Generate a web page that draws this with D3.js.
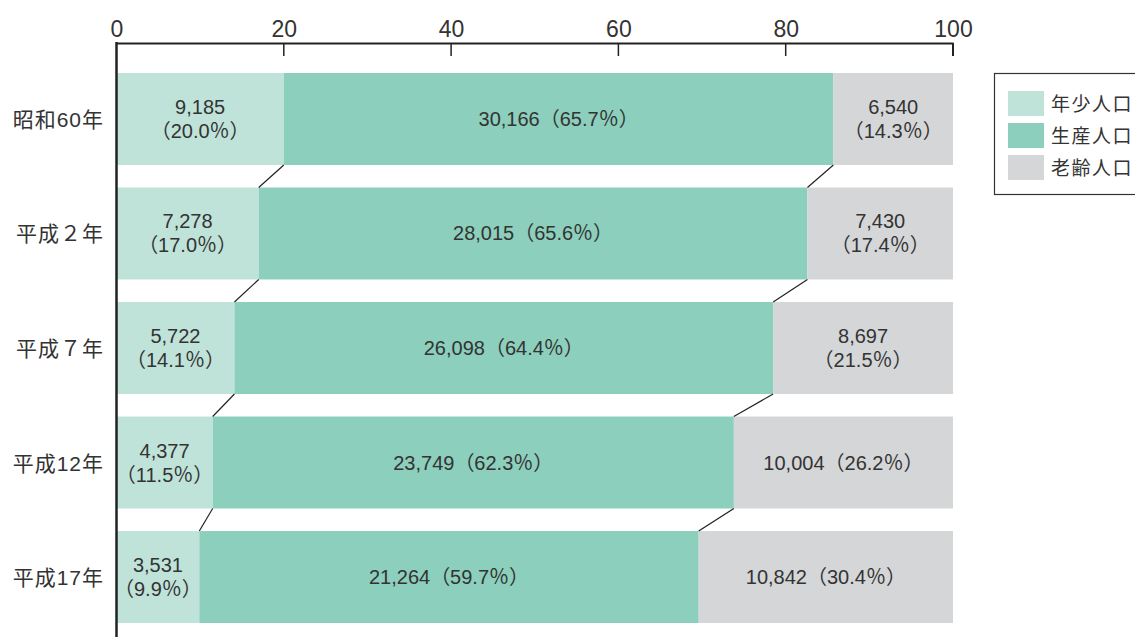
<!DOCTYPE html>
<html><head><meta charset="utf-8">
<script src="https://cdn.jsdelivr.net/npm/d3@7"></script>
<style>body{margin:0;background:#fff}svg{display:block}text{font-family:"Liberation Sans","Noto Sans CJK JP",sans-serif;fill:#333}</style>
</head><body>
<svg id="c" width="1135" height="637"></svg>
<script>
const categories = ["昭和60年","平成２年","平成７年","平成12年","平成17年"];
const seriesNames = ["年少人口","生産人口","老齢人口"];
const youngCount = ["9,185","7,278","5,722","4,377","3,531"];
const workCount = ["30,166","28,015","26,098","23,749","21,264"];
const oldCount = ["6,540","7,430","8,697","10,004","10,842"];
const youngPct = [20.0,17.0,14.1,11.5,9.9];
const workPct = [65.7,65.6,64.4,62.3,59.7];
const oldPct = [14.3,17.4,21.5,26.2,30.4];
const tickValues = [0,20,40,60,80,100];
const colors = ["#bfe3d9","#8bcfbc","#d5d6d8"];

const svg = d3.select("#c");
const x = d3.scaleLinear().domain([0,100]).range([116.5,953]);
const y = d3.scaleBand().domain(categories).range([73,623]).paddingInner(0.197).paddingOuter(0);

const fmt = v => v.toFixed(1);
const rows = categories.map((c,i)=>({
  cat:c,
  segs:[
    {k:0,start:0,end:youngPct[i],count:youngCount[i],pct:youngPct[i]},
    {k:1,start:youngPct[i],end:youngPct[i]+workPct[i],count:workCount[i],pct:workPct[i]},
    {k:2,start:youngPct[i]+workPct[i],end:100,count:oldCount[i],pct:oldPct[i]}
  ]
}));

rows.forEach(r=>{
  r.segs.forEach(s=>{
    svg.append("rect").attr("x",x(s.start)).attr("y",y(r.cat))
      .attr("width",x(s.end)-x(s.start)).attr("height",y.bandwidth())
      .attr("fill",colors[s.k]);
  });
});

for(let i=1;i<rows.length;i++){
  const p = rows[i-1], n = rows[i];
  [0,1].forEach(k=>{
    svg.append("line")
      .attr("x1",x(p.segs[k].end)).attr("y1",y(p.cat)+y.bandwidth())
      .attr("x2",x(n.segs[k].end)).attr("y2",y(n.cat))
      .attr("stroke","#222").attr("stroke-width",1.2);
  });
}

rows.forEach((r,i)=>{
  const cy = y(r.cat)+y.bandwidth()/2;
  r.segs.forEach(s=>{
    const cx = (x(s.start)+x(s.end))/2;
    const pctTxt = "（"+fmt(s.pct)+"％）";
    const twoLine = s.k===0 || (s.k===2 && i<3);
    const t = svg.append("text").attr("text-anchor","middle").attr("font-size",20);
    if(twoLine){
      t.append("tspan").attr("x",cx).attr("y",cy-5).text(s.count);
      t.append("tspan").attr("x",cx).attr("y",cy+19).text(pctTxt);
    } else {
      t.attr("x",cx).attr("y",cy+7).text(s.count+pctTxt);
    }
  });
  svg.append("text").attr("x",104).attr("y",cy+8).attr("text-anchor","end")
    .attr("font-size",21).attr("letter-spacing",1).text(r.cat);
});

const ax = svg.append("g").attr("transform","translate(0,43)")
  .call(d3.axisTop(x).tickValues(tickValues).tickSize(0).tickPadding(6));
ax.select(".domain").attr("stroke","#222").attr("stroke-width",2);
ax.selectAll("text").attr("font-size",23).attr("fill","#333").style("font-family","'Liberation Sans',sans-serif");
tickValues.forEach(v=>{
  svg.append("line").attr("x1",x(v)).attr("x2",x(v)).attr("y1",43).attr("y2",v===0?43:56)
    .attr("stroke","#222").attr("stroke-width",v===100?2:1.5);
});
svg.append("line").attr("x1",116.5).attr("x2",116.5).attr("y1",42).attr("y2",637)
  .attr("stroke","#222").attr("stroke-width",2.5);

const lg = svg.append("g");
lg.append("rect").attr("x",994.5).attr("y",73.5).attr("width",150).attr("height",121)
  .attr("fill","#fff").attr("stroke","#333").attr("stroke-width",1.2);
seriesNames.forEach((n,i)=>{
  lg.append("rect").attr("x",1008).attr("y",91+i*32).attr("width",36).attr("height",25).attr("fill",colors[i]);
  lg.append("text").attr("x",1051).attr("y",111+i*32).attr("font-size",19).attr("letter-spacing",1.5).text(n);
});
</script>
</body></html>
